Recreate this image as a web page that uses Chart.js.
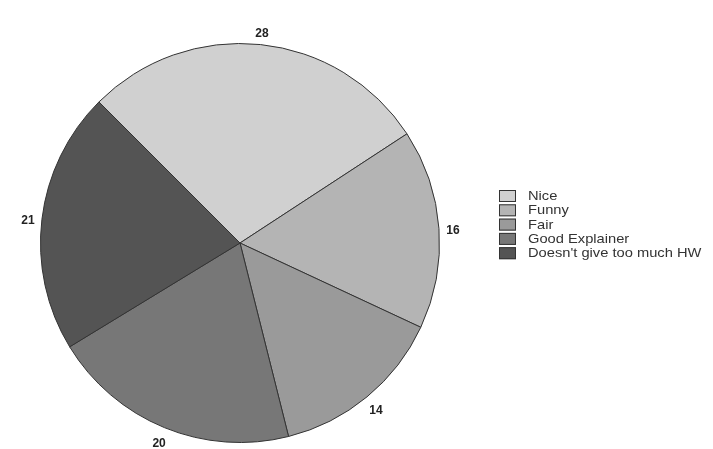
<!DOCTYPE html>
<html>
<head>
<meta charset="utf-8">
<script src="https://cdn.jsdelivr.net/npm/chart.js@4/dist/chart.umd.min.js"></script>
<style>
  html, body { margin: 0; padding: 0; background: #fff; }
  #wrap { width: 713px; height: 449px; }
</style>
</head>
<body>
<div id="wrap"><canvas id="myChart" width="713" height="449"></canvas></div>
<script>
// data
var categories = ['Nice', 'Funny', 'Fair', 'Good Explainer', "Doesn't give too much HW"];
var votes = [28, 16, 14, 20, 21];
var sliceColors = ['#d0d0d0', '#b4b4b4', '#9a9a9a', '#777777', '#545454'];

// numbers just outside each slice
var outsideLabels = {
  id: 'outsideLabels',
  afterDatasetsDraw: function(chart) {
    var ctx = chart.ctx;
    var meta = chart.getDatasetMeta(0);
    ctx.save();
    ctx.font = 'bold 12px Arial, "Liberation Sans", sans-serif';
    ctx.fillStyle = '#222';
    ctx.textAlign = 'center';
    ctx.textBaseline = 'middle';
    meta.data.forEach(function(arc, i) {
      var mid = (arc.startAngle + arc.endAngle) / 2;
      var r = arc.outerRadius + 14;
      ctx.fillText(String(votes[i]), arc.x + Math.cos(mid) * r, arc.y + Math.sin(mid) * r + 3);
    });
    ctx.restore();
  }
};

// legend boxes on the right
var sideLegend = {
  id: 'sideLegend',
  afterDraw: function(chart) {
    var ctx = chart.ctx;
    var x = 499, y = 190, step = 14.3;
    ctx.save();
    ctx.font = '13px Arial, "Liberation Sans", sans-serif';
    ctx.textBaseline = 'middle';
    categories.forEach(function(name, i) {
      var top = y + i * step;
      ctx.fillStyle = sliceColors[i];
      ctx.fillRect(x, top, 17, 12);
      ctx.strokeStyle = '#333';
      ctx.lineWidth = 1;
      ctx.strokeRect(x + 0.5, top + 0.5, 16, 11);
      // the original text looks a little stretched sideways
      ctx.save();
      ctx.translate(x + 29, top + 6.5);
      ctx.scale(1.13, 1);
      ctx.fillStyle = '#333';
      ctx.fillText(name, 0, 0);
      ctx.restore();
    });
    ctx.restore();
  }
};

var ctx = document.getElementById('myChart').getContext('2d');
var chart = new Chart(ctx, {
  type: 'pie',
  data: {
    labels: categories,
    datasets: [{
      data: votes,
      backgroundColor: sliceColors,
      borderColor: '#333333',
      borderWidth: 1
    }]
  },
  options: {
    responsive: false,
    animation: false,
    rotation: -45,
    layout: { padding: { left: 40, right: 273, top: 43, bottom: 6 } },
    plugins: {
      legend: { display: false },
      tooltip: { enabled: false }
    }
  },
  plugins: [outsideLabels, sideLegend]
});
</script>
</body>
</html>
